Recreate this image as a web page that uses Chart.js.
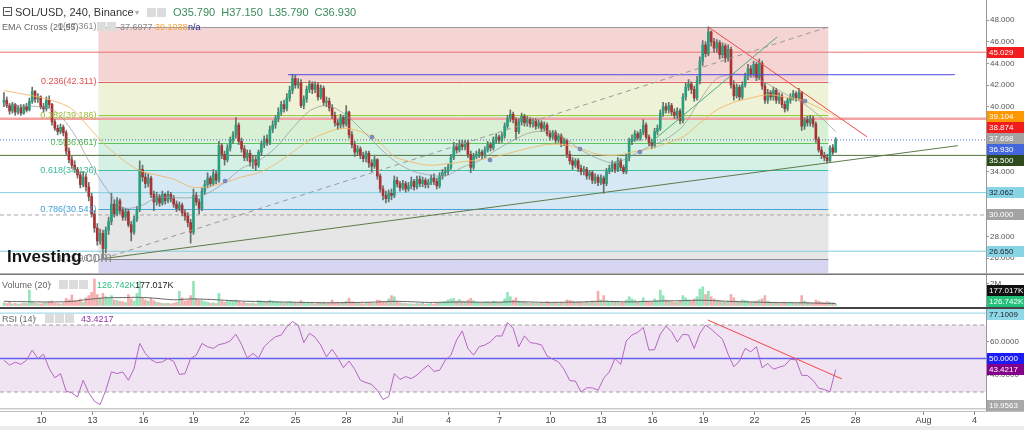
<!DOCTYPE html>
<html>
<head>
<meta charset="utf-8">
<title>SOL/USD, 240, Binance</title>
<script src="https://cdn.jsdelivr.net/npm/chart.js@4.4.1/dist/chart.umd.min.js"></script>
<style>
  body { margin: 0; width: 1024px; height: 430px; overflow: hidden; background: #fff; position: relative; }
  canvas { position: absolute; left: 0; }
  .sep { position: absolute; left: 0; width: 1024px; }
</style>
</head>
<body>
<canvas id="price" width="1024" height="273" style="top:0"></canvas>
<div class="sep" style="top:273px;height:1px;background:#b4b4b4"></div>
<div class="sep" style="top:274px;height:1px;background:#777"></div>
<canvas id="volume" width="1024" height="32" style="top:275px"></canvas>
<div class="sep" style="top:307px;height:2px;background:#444"></div>
<canvas id="rsi" width="1024" height="102" style="top:309px"></canvas>
<canvas id="time" width="1024" height="19" style="top:411px"></canvas>
<script>
// time is in days: Jun 1 = 1, Jul 1 = 31, Aug 1 = 62. one candle = 4h
var firstCandle = 7 + 20 / 24;
var firstOpen = 40.4;

var closes = [
  40.6,40.1,39.6,40.2,39.5,39.9, 39.4,40.0,39.7,40.5,41.4,40.7, 40.9,40.0,39.8,40.6,40.2,38.6,
  38.0,37.7,38.1,37.6,35.9,35.1, 34.6,34.2,33.7,32.8,33.5,32.6, 31.7,30.1,28.8,27.6,28.3,26.9,
  28.6,29.4,31.0,30.1,31.3,30.4, 29.8,30.3,29.1,28.4,29.6,30.5, 34.2,33.5,32.9,33.4,31.9,31.2,
  31.7,31.1,31.9,31.3,31.9,31.5, 31.0,30.6,30.9,30.2,29.9,29.3, 28.4,31.8,31.2,30.6,32.2,32.8,
  33.4,32.9,33.8,33.2,36.4,35.6, 35.1,36.2,36.9,37.4,38.3,36.8, 36.1,35.3,35.7,34.9,35.1,34.6,
  35.8,36.5,37.0,36.7,37.9,38.3, 38.9,39.5,40.2,39.8,40.8,41.5, 42.6,42.0,42.2,40.1,40.7,41.6,
  42.1,41.6,42.0,40.9,41.7,40.4, 40.5,39.9,39.2,38.5,38.3,39.0, 38.4,39.5,37.4,36.5,35.8,36.1,
  35.5,35.2,35.7,34.8,34.5,35.1, 33.6,32.4,31.8,31.5,32.0,31.8, 33.2,32.9,32.5,32.9,32.4,32.7,
  33.1,32.6,33.3,32.9,33.2,32.8, 33.0,33.4,33.1,32.7,33.6,33.9, 34.0,34.4,35.3,36.3,36.0,36.5,
  36.3,36.7,35.6,34.4,35.4,35.6, 35.8,35.5,36.0,36.5,36.2,36.9, 37.2,36.9,37.3,38.2,38.9,39.3,
  38.8,37.7,38.6,39.1,38.5,38.8, 38.4,38.7,38.2,38.5,38.0,38.3, 37.5,37.2,37.6,36.9,37.3,36.6,
  36.9,35.6,35.0,34.6,35.0,34.3, 34.0,34.2,33.6,33.9,33.2,33.5, 33.0,33.4,32.9,34.0,34.3,34.7,
  34.2,35.0,34.4,34.0,35.3,36.8, 37.0,37.5,37.1,37.6,38.3,37.2, 36.7,36.4,37.7,38.0,39.4,40.0,
  39.7,40.1,39.5,39.2,39.6,38.7, 40.9,41.8,42.1,41.6,40.8,42.4, 44.2,45.7,44.9,46.9,46.0,45.4,
  45.9,44.8,45.6,44.5,45.3,42.0, 41.0,41.8,40.9,42.0,42.8,43.5, 43.0,43.9,42.7,44.0,41.9,40.6,
  41.3,40.9,41.5,40.6,41.0,40.2, 39.8,40.6,40.9,41.2,40.8,41.3, 38.2,38.8,38.5,38.9,38.4,37.0,
  36.0,35.5,35.3,35.0,36.2,35.79, 36.93
];
var highs = [
  41.3,40.9,40.3,40.4,40.3,40.1, 40.2,40.2,40.3,40.8,41.8,41.5, 41.2,41.0,40.3,40.9,41.0,40.3,
  38.8,38.3,38.4,38.3,37.8,36.2, 35.4,35.0,34.4,34.0,34.0,33.8, 33.0,32.0,30.4,29.2,28.7,28.6,
  28.9,29.8,32.0,31.4,31.6,31.5, 30.7,30.6,30.5,29.4,29.9,30.8, 35.0,34.6,33.9,33.8,33.6,32.2,
  32.1,31.9,32.2,32.0,32.2,32.1, 31.8,31.3,31.2,31.1,30.5,30.2, 29.6,32.4,32.1,31.5,32.5,33.2,
  33.9,33.6,34.2,34.1,36.8,36.6, 35.9,36.5,37.2,37.7,39.0,38.5, 37.1,36.4,36.0,36.0,35.5,35.4,
  36.0,36.8,37.3,37.4,38.2,38.7, 39.2,39.9,40.5,40.6,41.2,41.9, 43.0,42.9,42.6,42.5,41.0,41.9,
  42.4,42.3,42.3,42.2,42.0,41.9, 40.9,40.8,40.2,39.5,38.8,39.3, 39.2,40.1,39.6,37.7,36.8,36.4,
  36.3,35.8,35.9,35.9,35.1,35.4, 35.2,33.8,32.7,32.2,32.3,32.4, 33.6,33.5,33.1,33.2,33.1,33.0,
  33.5,33.3,33.6,33.6,33.5,33.4, 33.3,33.7,33.8,33.4,33.9,34.2, 34.4,34.7,35.6,36.7,36.6,36.9,
  36.9,36.9,36.9,35.9,35.7,35.9, 36.1,36.0,36.3,36.8,36.7,37.2, 37.5,37.4,37.6,38.5,39.2,39.7,
  39.5,39.0,38.9,39.4,39.3,39.1, 39.0,38.9,38.9,38.8,38.7,38.6, 38.5,37.8,37.8,37.8,37.5,37.5,
  37.1,37.0,35.9,35.3,35.2,35.2, 34.6,34.5,34.4,34.1,34.1,33.8, 33.7,33.7,33.6,34.3,34.6,35.0,
  34.9,35.3,35.2,34.6,35.6,37.1, 37.4,37.8,37.7,37.9,38.8,38.5, 37.4,37.0,38.0,38.3,39.7,40.4,
  40.3,40.4,40.3,39.8,39.9,39.8, 41.2,42.2,42.5,42.3,41.9,42.8, 44.6,46.1,46.0,47.36,47.0,46.3,
  46.2,46.1,45.9,45.8,45.7,45.5, 42.4,42.1,42.0,42.3,43.1,43.9, 43.8,44.2,44.1,44.4,44.2,42.2,
  41.6,41.5,41.8,41.7,41.3,41.2, 40.5,40.8,41.2,41.5,41.4,41.7, 41.4,39.0,39.1,39.2,39.1,38.6,
  37.2,36.3,35.8,35.6,36.4,36.5, 37.15
];
var lows = [
  40.0,39.9,39.3,39.4,39.2,39.3, 39.2,39.3,39.5,39.6,40.3,40.4, 40.4,39.8,39.5,39.6,39.9,38.3,
  37.8,37.4,37.5,37.3,35.6,34.8, 34.3,33.9,33.4,32.5,32.6,32.2, 31.3,29.8,28.4,27.2,27.3,25.96,
  26.5,28.2,29.1,29.8,29.9,30.1, 29.5,29.5,28.9,27.6,28.2,29.4, 30.3,33.1,32.5,32.6,31.6,30.4,
  30.9,30.8,30.9,31.0,31.1,31.2, 30.7,30.3,30.4,29.9,29.5,28.9, 27.4,28.2,30.9,30.1,30.4,31.9,
  32.5,32.6,32.7,32.9,33.0,35.2, 34.6,34.9,35.9,36.6,37.1,36.5, 35.8,35.0,35.0,34.5,34.3,34.1,
  34.4,35.5,36.2,36.4,36.5,37.6, 38.0,38.6,39.2,39.5,39.6,40.5, 41.2,41.7,41.7,39.9,39.8,40.4,
  41.3,41.2,41.3,40.6,40.7,40.1, 40.0,39.6,38.9,38.2,37.9,38.0, 38.1,38.2,37.1,36.2,35.4,35.5,
  35.2,34.9,34.9,34.4,34.0,34.3, 33.3,32.1,31.4,31.1,31.2,31.4, 31.6,32.6,32.2,32.3,32.1,32.2,
  32.4,32.3,32.4,32.6,32.6,32.5, 32.5,32.8,32.8,32.4,32.5,33.3, 33.6,33.7,34.2,35.1,35.7,35.8,
  36.0,36.0,35.3,33.9,34.2,35.2, 35.3,35.2,35.3,35.8,35.9,36.0, 36.6,36.6,36.7,37.1,38.0,38.6,
  38.5,37.0,37.5,38.3,38.2,38.2, 38.1,38.1,37.9,38.0,37.7,37.8, 37.3,36.9,37.0,36.6,36.7,36.3,
  36.4,35.3,34.7,34.2,34.4,34.0, 33.7,33.7,33.3,33.3,32.9,32.9, 32.7,32.8,32.0,32.7,33.8,34.0,
  33.9,34.0,34.1,33.8,33.8,35.0, 36.5,36.8,36.9,36.9,37.4,37.0, 36.4,36.1,36.2,37.4,37.8,39.1,
  39.4,39.4,39.2,38.9,38.9,38.4, 38.5,40.6,41.5,41.2,40.5,40.6, 42.1,43.8,44.6,44.7,45.6,45.0,
  45.0,44.4,44.5,44.1,44.2,41.7, 40.6,40.8,40.6,40.7,41.8,42.5, 42.7,42.8,42.4,42.5,41.6,40.3,
  40.3,40.6,40.6,40.3,40.3,39.9, 39.5,39.6,40.3,40.6,40.5,40.6, 37.8,37.9,38.2,38.2,38.1,36.7,
  35.8,35.2,35.0,34.8,34.9,35.6, 35.79
];
// volume in thousands
var volumes = [
  250,180,300,150,200,120, 160,220,180,1400,350,200, 180,150,220,260,360,420,
  200,180,150,220,650,500, 960,420,380,600,300,700, 900,1200,2400,1000,700,1100,
  800,650,900,500,450,400, 350,280,1000,600,400,1100, 2200,700,500,400,650,450,
  300,250,200,180,220,150, 200,300,1300,700,400,500, 900,2200,600,500,450,350,
  300,200,250,180,1100,400, 300,450,400,380,500,420, 250,300,200,180,220,150,
  450,420,350,300,480,400, 350,300,280,200,300,350, 320,250,200,450,300,250,
  200,180,150,250,200,300, 200,180,500,250,300,220, 300,400,650,350,300,200,
  180,150,200,250,200,180, 500,450,350,300,600,900, 800,400,250,200,180,150,
  150,120,180,150,200,120, 150,180,120,200,250,300, 350,500,600,650,400,550,
  400,350,500,650,450,300, 250,200,300,350,200,400, 350,250,300,600,1200,800,
  500,700,400,350,300,250, 200,250,180,200,220,180, 350,250,200,300,180,250,
  200,500,450,400,300,350, 300,250,350,300,400,300, 1300,500,900,450,350,400,
  350,300,250,300,500,800, 600,500,300,400,700,400, 350,300,600,450,1400,900,
  500,400,350,300,300,450, 900,700,500,400,600,800, 1500,1700,1000,1300,800,600,
  500,400,350,300,400,1000, 700,400,350,500,450,400, 300,350,400,500,600,900,
  400,300,250,300,200,250, 300,200,250,200,180,200, 900,400,300,250,200,500,
  400,300,250,350,300,250, 126.742
];
// one value per day (every 6th candle)
var volumeMA = [380,350,330,320,380,560,700,720,740,650,520,600,560,480,400,360,330,300,270,250,
  260,280,320,380,340,280,300,320,300,300,340,320,280,300,320,380,360,330,380,420,
  440,480,430,360,320,280,260,250,210,177.017];
var ema21 = [40.2,40.1,40.0,39.6,37.8,35.0,32.5,30.7,30.8,31.6,31.6,31.6,32.0,33.0,34.3,35.0,36.2,38.0,39.6,40.1,
  39.4,38.0,36.4,35.0,34.1,33.7,33.6,34.4,35.0,36.0,36.9,37.6,37.7,37.1,36.0,35.2,34.8,35.5,36.3,37.0,
  38.2,40.6,42.6,43.0,42.8,42.1,41.2,40.4,39.2,37.6977];
var ema55 = [41.5,41.2,40.9,40.5,39.8,38.1,36.4,35.1,34.1,33.7,33.3,32.6,32.6,33.0,33.5,33.9,34.7,35.8,36.9,37.6,
  38.0,37.7,36.9,35.4,34.9,34.6,34.7,34.9,35.1,35.4,35.8,36.2,36.5,36.5,36.1,35.6,35.5,35.8,36.1,36.6,
  37.2,38.5,39.7,40.4,40.8,41.1,40.9,40.6,39.9,39.1038];
var emaCrossDays = [20.86, 29.52, 36.47, 41.77, 45.30, 55.03];
var emaCrossPrices = [33.13, 37.2, 35.07, 36.09, 35.81, 40.52];
// RSI(14), one value every 2nd candle
var rsi = [49,46,47.8,46.5,49,55,50,52.5,44,38.5,
  41,30.5,29.5,27,37,29.5,24.5,22.5,31,42,
  41,42,37,44,59,53,49.3,47.5,48,50,
  48.3,40.5,41,50,52,59,57,56,58.3,59,
  60.5,64.5,58.3,50.3,53,50.3,57,60.3,63,64,
  69,72,70,59.5,65,62.7,58,51,55.5,50.5,
  44.5,48.5,43.5,37,35.6,34.5,31,25.5,27.2,41,
  37.5,39.2,38,40.1,43.3,46,42.3,43,49,52,
  61,66.5,56,52,57.1,58,60,63.5,63.4,71.5,
  68,57,63.5,59.5,59,58.1,51.5,49.6,48,43.5,
  36.8,36.5,30,32.5,32.5,31,38.2,42,50,46.5,
  60.5,64,65.6,68.5,55,55.3,64.5,69.3,66,59.8,
  64.5,64,56,65,70,67.5,64.5,61.5,52.5,45,
  48.5,56,54,57,44.5,47,43.6,44.8,45.8,49.5,
  49.2,40,39.8,37,32.3,31.5,30.2,43.4217];

var fibHigh = 47.361, fibLow = 25.961, fibStartDay = 13.4, fibEndDay = 56.4;
var fibLevels = [0, 0.236, 0.382, 0.5, 0.618, 0.786, 1, 1.618];
var levelLines = [45.029, 38.874, 35.5, 32.062, 30.0, 26.65];
var resistanceLine = [[24.57, 42.95], [63.86, 42.95]];
var supportLine = [[13.667, 25.961], [64.04, 36.4]];
var fibTrend = [[13.667, 25.961], [56.4, 47.361]];
var downTrend = [[49.33, 47.36], [58.68, 37.22]];
var upTrend = [[45.9, 36.64], [53.38, 46.43]];
var rsiTrend = [[49.3, 73.0], [57.2, 37.8]];
var rsiLevels = [70, 50, 30];
var rsiMarks = [77.1009, 19.9563];
var priceTicks = [26, 28, 30, 32, 34, 36, 38, 40, 42, 44, 46, 48];
var volumeTicks = [2000];
var rsiTicks = [40, 60];
var dayTicks = [10, 13, 16, 19, 22, 25, 28, 31, 34, 37, 40, 43, 46, 49, 52, 55, 58, 62, 65];
var dayLabels = ['10', '13', '16', '19', '22', '25', '28', 'Jul', '4', '7', '10', '13', '16', '19', '22', '25', '28', 'Aug', '4'];

var FONT = "'Liberation Sans', Arial, sans-serif";
var UP = '#27a07f', DOWN = '#ac3232';
var xMin = 7.602, xMax = 65.69;
Chart.defaults.font.family = FONT;
Chart.defaults.animation = false;

var opens = closes.map(function (c, i) { return i === 0 ? firstOpen : closes[i - 1]; });
var times = closes.map(function (c, i) { return firstCandle + i / 6; });
var last = closes.length - 1;

function fibPrice(lv) { return fibHigh - lv * (fibHigh - fibLow); }

function xAxis() {
  return { type: 'linear', min: xMin, max: xMax, offset: false, display: false, grid: { offset: false } };
}
function yAxis(min, max, ticks, fmt) {
  return {
    position: 'right', min: min, max: max,
    afterFit: function (s) { s.width = 38; s.paddingTop = 0; s.paddingBottom = 0; },
    afterBuildTicks: function (s) { s.ticks = ticks.map(function (v) { return { value: v }; }); },
    ticks: { callback: fmt, color: '#555', font: { size: 8 }, padding: 1, autoSkip: false },
    grid: { drawOnChartArea: false, tickLength: 3, color: '#999' },
    border: { color: '#999' }
  };
}
function paneOptions(y) {
  return {
    responsive: false, animation: false,
    layout: { padding: 0, autoPadding: false },
    plugins: { legend: { display: false }, tooltip: { enabled: false } },
    scales: { x: xAxis(), y: y }
  };
}
function seg(points, color, width, dash, order) {
  return {
    type: 'line', data: points.map(function (p) { return { x: p[0], y: p[1] }; }),
    borderColor: color, borderWidth: width, borderDash: dash || [], pointRadius: 0, fill: false, order: order || 1
  };
}
function hline(v, color, width, dash) { return seg([[xMin, v], [xMax, v]], color, width, dash, 6); }
function dailyPoints(arr) { return arr.map(function (v, k) { return { x: firstCandle + k, y: v }; }); }

function drawTags(chart, tags, fmt) {
  var ctx = chart.ctx, ys = chart.scales.y, a = chart.chartArea, h = 11;
  var items = tags.map(function (t) { return { v: t[0], bg: t[1], fg: t[2], py: ys.getPixelForValue(t[0]) }; });
  items.sort(function (p, q) { return p.py - q.py; });
  for (var i = 0; i < items.length; i++) {
    if (items[i].py < a.top + h / 2) items[i].py = a.top + h / 2;
    if (i > 0 && items[i].py < items[i - 1].py + h) items[i].py = items[i - 1].py + h;
  }
  for (i = items.length - 1; i >= 0; i--) {
    var lim = i === items.length - 1 ? a.bottom - h / 2 : items[i + 1].py - h;
    if (items[i].py > lim) items[i].py = lim;
  }
  ctx.save();
  ctx.font = '8px ' + FONT;
  ctx.textBaseline = 'middle';
  items.forEach(function (it) {
    ctx.fillStyle = it.bg;
    ctx.fillRect(a.right + 1, Math.round(it.py - h / 2), 37, h);
    ctx.fillStyle = it.fg;
    ctx.fillText(fmt(it.v), a.right + 3, Math.round(it.py - h / 2) + 6);
  });
  ctx.restore();
}

function icons(ctx, x, y, n) {
  ctx.fillStyle = '#dcdcdc';
  for (var k = 0; k < n; k++) ctx.fillRect(x + k * 10, y, 9, 9);
}

// ---------- price pane ----------
var fibBand = ['#f5d4d4', '#eef3d7', '#d8f0d3', '#d5f1e6', '#d5e8f3', '#e6e6e6', '#d7d6f2'];
var fibLine = ['#9a9a9a', '#e06262', '#9ccc3d', '#5cc45c', '#3fbf9f', '#4aa3d8', '#8a8a8a', '#7777dd'];
var fibText = ['#888', '#e05050', '#9cbf35', '#4cbb4c', '#38b894', '#45a0d6', '#888', '#7777dd'];

var pricePlugin = {
  id: 'pricePane',
  beforeDatasetsDraw: function (chart) {
    var ctx = chart.ctx, x = chart.scales.x, y = chart.scales.y, a = chart.chartArea;
    var x1 = x.getPixelForValue(fibStartDay), x2 = x.getPixelForValue(fibEndDay);
    ctx.save();
    ctx.beginPath(); ctx.rect(a.left, a.top, a.width, a.height); ctx.clip();
    for (var k = 0; k < fibLevels.length - 1; k++) {
      var ya = y.getPixelForValue(fibPrice(fibLevels[k])), yb = y.getPixelForValue(fibPrice(fibLevels[k + 1]));
      ctx.fillStyle = fibBand[k];
      ctx.fillRect(x1, ya, x2 - x1, yb - ya);
    }
    fibLevels.forEach(function (lv, k) {
      var py = Math.round(y.getPixelForValue(fibPrice(lv))) + 0.5;
      ctx.strokeStyle = fibLine[k]; ctx.lineWidth = 1;
      ctx.beginPath(); ctx.moveTo(x1, py); ctx.lineTo(x2, py); ctx.stroke();
    });
    ctx.restore();
  },
  afterDatasetsDraw: function (chart) {
    var ctx = chart.ctx, x = chart.scales.x, y = chart.scales.y;
    var x1 = x.getPixelForValue(fibStartDay);
    ctx.save();
    ctx.font = '9px ' + FONT; ctx.textAlign = 'right'; ctx.textBaseline = 'middle';
    fibLevels.forEach(function (lv, k) {
      if (lv > 1) return;
      ctx.fillStyle = fibText[k];
      ctx.fillText(lv + '(' + fibPrice(lv).toFixed(3) + ')', x1 - 2, y.getPixelForValue(fibPrice(lv)));
    });
    // Investing.com mark
    ctx.textAlign = 'left'; ctx.textBaseline = 'alphabetic';
    ctx.font = 'bold 17px ' + FONT; ctx.fillStyle = '#151515';
    ctx.fillText('Investing', 7, 262);
    var w = ctx.measureText('Investing').width;
    ctx.font = '14px ' + FONT; ctx.fillStyle = '#8a8a8a';
    ctx.fillText('.com', 7 + w, 262);
    ctx.restore();
  },
  afterDraw: function (chart) {
    var ctx = chart.ctx;
    ctx.save();
    // legend row 1
    ctx.strokeStyle = '#555'; ctx.lineWidth = 1;
    ctx.strokeRect(3.5, 7.5, 8, 8);
    ctx.beginPath(); ctx.moveTo(5, 11.5); ctx.lineTo(10, 11.5); ctx.stroke();
    ctx.font = '11px ' + FONT; ctx.fillStyle = '#333'; ctx.textBaseline = 'alphabetic';
    ctx.fillText('SOL/USD, 240, Binance', 15, 16);
    ctx.fillStyle = '#aaa'; ctx.font = '8px ' + FONT; ctx.fillText('\u25BE', 135, 15);
    icons(ctx, 147, 8, 2);
    ctx.font = '11px ' + FONT; ctx.fillStyle = '#3b8a5a';
    var ohlc = [['O', opens[last]], ['H', highs[last]], ['L', lows[last]], ['C', closes[last]]];
    var px = 173;
    ohlc.forEach(function (p) {
      var s = p[0] + p[1].toFixed(3);
      ctx.fillText(s, px, 16);
      px += ctx.measureText(s).width + 6;
    });
    // legend row 2
    ctx.font = '9px ' + FONT; ctx.fillStyle = '#666';
    ctx.fillText('EMA Cross (21,55)', 2, 30);
    icons(ctx, 97, 22, 2);
    ctx.fillStyle = '#8a8a8a'; ctx.fillText(ema21[ema21.length - 1].toFixed(4), 120, 30);
    ctx.fillStyle = '#f5a33a'; ctx.fillText(ema55[ema55.length - 1].toFixed(4), 155, 30);
    ctx.fillStyle = '#1d2a8a'; ctx.fillText('n/a', 188, 30);
    ctx.restore();
    drawTags(chart, [
      [levelLines[0], '#f21c1c', '#fff'],
      [ema55[ema55.length - 1], '#ff9800', '#fff'],
      [levelLines[1], '#f21c1c', '#fff'],
      [ema21[ema21.length - 1], '#a3a3a3', '#fff'],
      [closes[last], '#4466dd', '#fff'],
      [levelLines[2], '#2d4b1c', '#fff'],
      [levelLines[3], '#86d4e4', '#223'],
      [levelLines[4], '#a3a3a3', '#fff'],
      [levelLines[5], '#86d4e4', '#223']
    ], function (v) { return v.toFixed(3); });
  }
};

new Chart(document.getElementById('price'), {
  type: 'line',
  data: {
    datasets: [
      hline(levelLines[0], '#f07070', 1),
      hline(levelLines[1], '#f4a3a3', 2.5),
      hline(levelLines[2], '#52703c', 1),
      hline(levelLines[3], '#80cfe0', 1),
      hline(levelLines[4], '#a8a8a8', 1, [4, 3]),
      hline(levelLines[5], '#80cfe0', 1),
      hline(closes[last], '#4a62d0', 1, [1, 2]),
      {
        type: 'bar', order: 5, grouped: false, barThickness: 1,
        data: times.map(function (t, i) { return { x: t, y: [lows[i], highs[i]] }; }),
        backgroundColor: '#66716c'
      },
      {
        type: 'bar', order: 4, grouped: false, barThickness: 2,
        data: times.map(function (t, i) { return { x: t, y: [opens[i], closes[i]] }; }),
        backgroundColor: closes.map(function (c, i) { return c >= opens[i] ? UP : DOWN; })
      },
      {
        type: 'line', order: 3, data: dailyPoints(ema21), borderColor: 'rgba(150,150,150,0.7)',
        borderWidth: 1, pointRadius: 0, tension: 0.3
      },
      {
        type: 'line', order: 3, data: dailyPoints(ema55), borderColor: 'rgba(245,180,100,0.85)',
        borderWidth: 1, pointRadius: 0, tension: 0.3
      },
      seg(fibTrend, '#9a9a9a', 1, [5, 4], 2),
      seg(supportLine, '#5e7a4a', 1, [], 2),
      seg(resistanceLine, '#4a4ae0', 1, [], 2),
      seg(downTrend, '#f24848', 1, [], 2),
      seg(upTrend, '#4aae7f', 1, [], 2),
      {
        type: 'line', order: 1, showLine: false,
        data: emaCrossDays.map(function (d, k) { return { x: d, y: emaCrossPrices[k] }; }),
        pointRadius: 2, pointBackgroundColor: '#7f8fc8', pointBorderColor: '#55639e', pointBorderWidth: 0.5
      }
    ]
  },
  options: paneOptions(yAxis(24.64, 49.85, priceTicks, function (v) { return v.toFixed(3); })),
  plugins: [pricePlugin]
});

// ---------- volume pane ----------
new Chart(document.getElementById('volume'), {
  type: 'line',
  data: {
    datasets: [
      {
        type: 'bar', order: 2, grouped: false, barThickness: 2,
        data: times.map(function (t, i) { return { x: t, y: volumes[i] }; }),
        backgroundColor: closes.map(function (c, i) { return c >= opens[i] ? 'rgba(40,200,120,0.5)' : 'rgba(240,90,90,0.5)'; })
      },
      { type: 'line', order: 1, data: dailyPoints(volumeMA), borderColor: '#666', borderWidth: 1, pointRadius: 0, tension: 0.3 }
    ]
  },
  options: paneOptions(yAxis(-136, 2773, volumeTicks, function (v) { return (v / 1000) + 'M'; })),
  plugins: [{
    id: 'volPane',
    afterDraw: function (chart) {
      var ctx = chart.ctx;
      ctx.save();
      ctx.font = '9px ' + FONT; ctx.fillStyle = '#666';
      ctx.fillText('Volume (20)', 2, 13);
      ctx.fillStyle = '#aaa'; ctx.font = '7px ' + FONT; ctx.fillText('\u25BE', 48, 12);
      icons(ctx, 59, 5, 3);
      ctx.font = '9px ' + FONT;
      ctx.fillStyle = '#2ec27e'; ctx.fillText(volumes[last].toFixed(3) + 'K', 97, 13);
      ctx.fillStyle = '#222'; ctx.fillText(volumeMA[volumeMA.length - 1].toFixed(3) + 'K', 135, 13);
      ctx.restore();
      drawTags(chart, [
        [volumeMA[volumeMA.length - 1], '#111', '#fff'],
        [volumes[last], '#22c27a', '#fff']
      ], function (v) { return v.toFixed(3) + 'K'; });
    }
  }]
});

// ---------- RSI pane ----------
new Chart(document.getElementById('rsi'), {
  type: 'line',
  data: {
    datasets: [
      hline(rsiLevels[0], '#a0a0a0', 1, [4, 3]),
      hline(rsiLevels[1], '#6262f0', 1.5),
      hline(rsiLevels[2], '#a0a0a0', 1, [4, 3]),
      hline(rsiMarks[0], '#8fd3e3', 1),
      hline(rsiMarks[1], '#b0b0b0', 1),
      {
        type: 'line', order: 2, data: rsi.map(function (v, j) { return { x: firstCandle + j / 3, y: v }; }),
        borderColor: '#b566c4', borderWidth: 1, pointRadius: 0
      },
      seg(rsiTrend, '#f24848', 1, [], 1)
    ]
  },
  options: paneOptions(yAxis(18.66, 79.55, rsiTicks, function (v) { return v.toFixed(4); })),
  plugins: [{
    id: 'rsiPane',
    beforeDatasetsDraw: function (chart) {
      var ctx = chart.ctx, y = chart.scales.y, a = chart.chartArea;
      var y1 = y.getPixelForValue(rsiLevels[0]), y2 = y.getPixelForValue(rsiLevels[2]);
      ctx.save();
      ctx.fillStyle = '#f1e4f2';
      ctx.fillRect(a.left, y1, a.width, y2 - y1);
      ctx.restore();
    },
    afterDraw: function (chart) {
      var ctx = chart.ctx;
      ctx.save();
      ctx.font = '9px ' + FONT; ctx.fillStyle = '#666';
      ctx.fillText('RSI (14)', 2, 13);
      ctx.fillStyle = '#aaa'; ctx.font = '7px ' + FONT; ctx.fillText('\u25BE', 33, 12);
      icons(ctx, 45, 5, 3);
      ctx.font = '9px ' + FONT; ctx.fillStyle = '#9434a8';
      ctx.fillText(rsi[rsi.length - 1].toFixed(4), 81, 13);
      ctx.restore();
      drawTags(chart, [
        [rsiMarks[0], '#8fd8e8', '#223'],
        [rsiLevels[1], '#1c1cf5', '#fff'],
        [rsi[rsi.length - 1], '#84008a', '#fff'],
        [rsiMarks[1], '#a8a8a8', '#fff']
      ], function (v) { return v.toFixed(4); });
    }
  }]
});

// ---------- time axis ----------
new Chart(document.getElementById('time'), {
  type: 'line',
  data: { datasets: [] },
  options: {
    responsive: false, animation: false,
    layout: { padding: { right: 38 }, autoPadding: false },
    plugins: { legend: { display: false }, tooltip: { enabled: false } },
    scales: { x: xAxis(), y: { display: false } }
  },
  plugins: [{
    id: 'timeAxis',
    afterDraw: function (chart) {
      var ctx = chart.ctx, x = chart.scales.x;
      ctx.save();
      ctx.fillStyle = '#bdbdbd'; ctx.fillRect(0, 0, 1024, 1);
      ctx.fillStyle = '#ececec'; ctx.fillRect(0, 15, 1024, 4);
      ctx.font = '9px ' + FONT; ctx.textAlign = 'center'; ctx.textBaseline = 'middle';
      dayTicks.forEach(function (d, k) {
        var px = Math.round(x.getPixelForValue(d)) + 0.5;
        ctx.strokeStyle = '#888'; ctx.beginPath(); ctx.moveTo(px, 1); ctx.lineTo(px, 4); ctx.stroke();
        ctx.fillStyle = '#444';
        ctx.fillText(dayLabels[k], px, 9.5);
      });
      ctx.restore();
    }
  }]
});
</script>
</body>
</html>
